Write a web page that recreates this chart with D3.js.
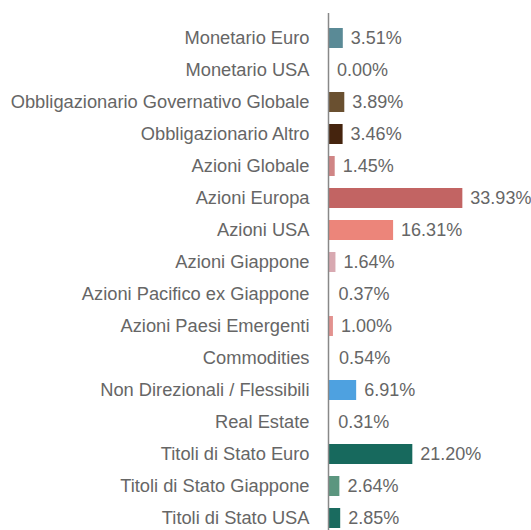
<!DOCTYPE html>
<html>
<head>
<meta charset="utf-8">
<script src="https://cdn.jsdelivr.net/npm/d3@7"></script>
<style>
  body { margin: 0; background: #fff; }
  text { font-family: "Liberation Sans", Arial, sans-serif; }
</style>
</head>
<body>
<div id="chart-area"></div>
<script>
var categories = [
    "Monetario Euro", "Monetario USA", "Obbligazionario Governativo Globale",
    "Obbligazionario Altro", "Azioni Globale", "Azioni Europa", "Azioni USA",
    "Azioni Giappone", "Azioni Pacifico ex Giappone", "Azioni Paesi Emergenti",
    "Commodities", "Non Direzionali / Flessibili", "Real Estate",
    "Titoli di Stato Euro", "Titoli di Stato Giappone", "Titoli di Stato USA"
];
var values = [3.51, 0.00, 3.89, 3.46, 1.45, 33.93, 16.31, 1.64, 0.37, 1.00,
    0.54, 6.91, 0.31, 21.20, 2.64, 2.85];
var colors = ["#5a8a96", "none", "#6a5030", "#45240e", "#d08585", "#c26463",
    "#ec857a", "#d8a9b1", "none", "#e3928f", "none", "#4ea1e0",
    "none", "#17695d", "#5b967f", "#1a6b5f"];

var width = 531, height = 530;

var svg = d3.select("#chart-area")
    .append("svg")
    .attr("width", width)
    .attr("height", height);

var x0 = 329;

var x = d3.scaleLinear()
    .domain([0, 10])
    .range([x0, x0 + 39.3]);

var y = d3.scaleBand()
    .domain(categories)
    .range([22, 22 + 32 * categories.length])
    .paddingInner(0.375)
    .paddingOuter(0.1875);

var data = categories.map(function(c, i) {
    return { name: c, value: values[i], color: colors[i] };
});

svg.selectAll("rect")
    .data(data)
    .enter()
    .append("rect")
    .attr("x", x(0))
    .attr("y", function(d) { return y(d.name); })
    .attr("width", function(d) { return x(d.value) - x(0); })
    .attr("height", y.bandwidth())
    .attr("fill", function(d) { return d.color; });

// category labels
svg.selectAll(".cat")
    .data(data)
    .enter()
    .append("text")
    .attr("class", "cat")
    .attr("x", 309.5)
    .attr("y", function(d) { return y(d.name) + y.bandwidth() / 2; })
    .attr("dy", "0.35em")
    .attr("text-anchor", "end")
    .attr("font-size", "18.3px")
    .attr("fill", "#666")
    .text(function(d) { return d.name; });

// value labels
svg.selectAll(".val")
    .data(data)
    .enter()
    .append("text")
    .attr("class", "val")
    .attr("x", function(d) { return x(d.value) + 8; })
    .attr("y", function(d) { return y(d.name) + y.bandwidth() / 2; })
    .attr("dy", "0.35em")
    .attr("font-size", "18px")
    .attr("fill", "#666")
    .text(function(d) { return d.value.toFixed(2) + "%"; });

// axis line
svg.append("line")
    .attr("x1", x0 - 0.5)
    .attr("x2", x0 - 0.5)
    .attr("y1", 13)
    .attr("y2", height)
    .attr("stroke", "#888")
    .attr("stroke-width", 1.5);
</script>
</body>
</html>
